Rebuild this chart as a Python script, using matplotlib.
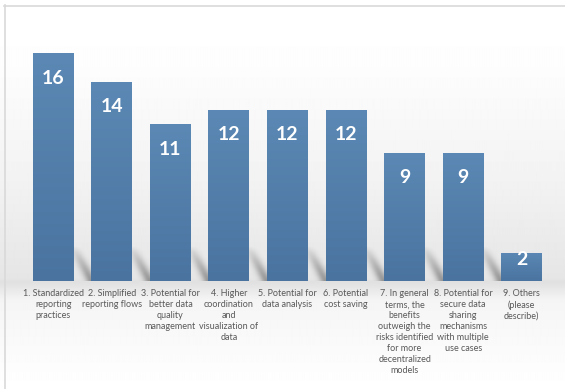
import numpy as np
import matplotlib.pyplot as plt
from matplotlib.colors import LinearSegmentedColormap

# ── Data ──────────────────────────────────────────
labels = [
    "1. Standardized\nreporting\npractices",
    "2. Simplified\nreporting flows",
    "3. Potential for\nbetter data\nquality\nmanagement",
    "4. Higher\ncoordination\nand\nvisualization of\ndata",
    "5. Potential for\ndata analysis",
    "6. Potential\ncost saving",
    "7. In general\nterms, the\nbenefits\noutweigh the\nrisks identified\nfor more\ndecentralized\nmodels",
    "8. Potential for\nsecure data\nsharing\nmechanisms\nwith multiple\nuse cases",
    "9. Others\n(please\ndescribe)",
]
counts = [16, 14, 11, 12, 12, 12, 9, 9, 2]

W, H = 565, 389
fig = plt.figure(figsize=(W / 100, H / 100), dpi=100)

# ── Background gradient (white top -> light grey floor -> white) ──
bg = fig.add_axes([0, 0, 1, 1])
ys = np.arange(H)
prof = np.interp(ys, [0, 60, 180, 278, 282, 300, 389],
                 [1.0, 0.995, 0.95, 0.9, 0.88, 0.96, 1.0])
img = np.repeat(prof[:, None], 10, axis=1)
bg.imshow(img, cmap='gray', vmin=0, vmax=1, aspect='auto',
          extent=[0, W, H, 0], interpolation='bilinear')
bg.set_xlim(0, W)
bg.set_ylim(H, 0)
bg.plot([4, W], [5.5, 5.5], color='#d9d9d9', lw=1.2)
bg.plot([4.5, 4.5], [5, H], color='#d9d9d9', lw=1.2)
bg.axis('off')

# ── Bars ──────────────────────────────────────────
ax = fig.add_axes([24 / W, 1 - 281 / H, (551 - 24) / W, (281 - 53) / H])
ax.patch.set_alpha(0)
x = np.arange(len(counts))
bars = ax.bar(x, counts, width=0.7, color='#5580ac', edgecolor='none', zorder=2)

cmap = LinearSegmentedColormap.from_list('bar', ['#4a73a0', '#5b88b4'])
grad = np.linspace(0, 1, 256)[:, None]
for b in bars:
    x0, w, h = b.get_x(), b.get_width(), b.get_height()
    im = ax.imshow(grad, cmap=cmap, aspect='auto', origin='lower',
                   extent=[x0, x0 + w, 0, h], zorder=3)
    im.set_clip_path(b)

# soft diagonal shadows on the floor, left of each bar
u, v = np.meshgrid(np.linspace(0, 1, 60), np.linspace(0, 1, 80))
a = np.exp(-((u - (1 - v)) / 0.3) ** 2) * (1 - v) ** 0.8 * 0.35
shadow = np.zeros(a.shape + (4,))
shadow[..., 3] = a
for b in bars[1:]:
    L = b.get_x()
    ax.imshow(shadow, aspect='auto', origin='lower',
              extent=[L - 0.32, L, 0, 2.4], zorder=1, interpolation='bilinear')

for xi, v in zip(x, counts):
    off = min(25, v * 14.25 / 2 - 7)
    ax.annotate(str(v), (xi, v), xytext=(0, -off * 0.72), textcoords='offset points',
                ha='center', va='center', color='white', fontsize=14,
                fontweight='bold', family='Lato', zorder=4)

ax.set_xlim(-0.5, len(counts) - 0.5)
ax.set_ylim(0, 16)
ax.set_yticks([])
ax.set_xticks(x)
ax.set_xticklabels(labels, fontsize=6.5, color='#595959', family='Lato',
                   linespacing=1.28, va='top')
ax.tick_params(axis='x', length=0, pad=6)
for s in ax.spines.values():
    s.set_visible(False)

plt.savefig('out.png', dpi=100)
